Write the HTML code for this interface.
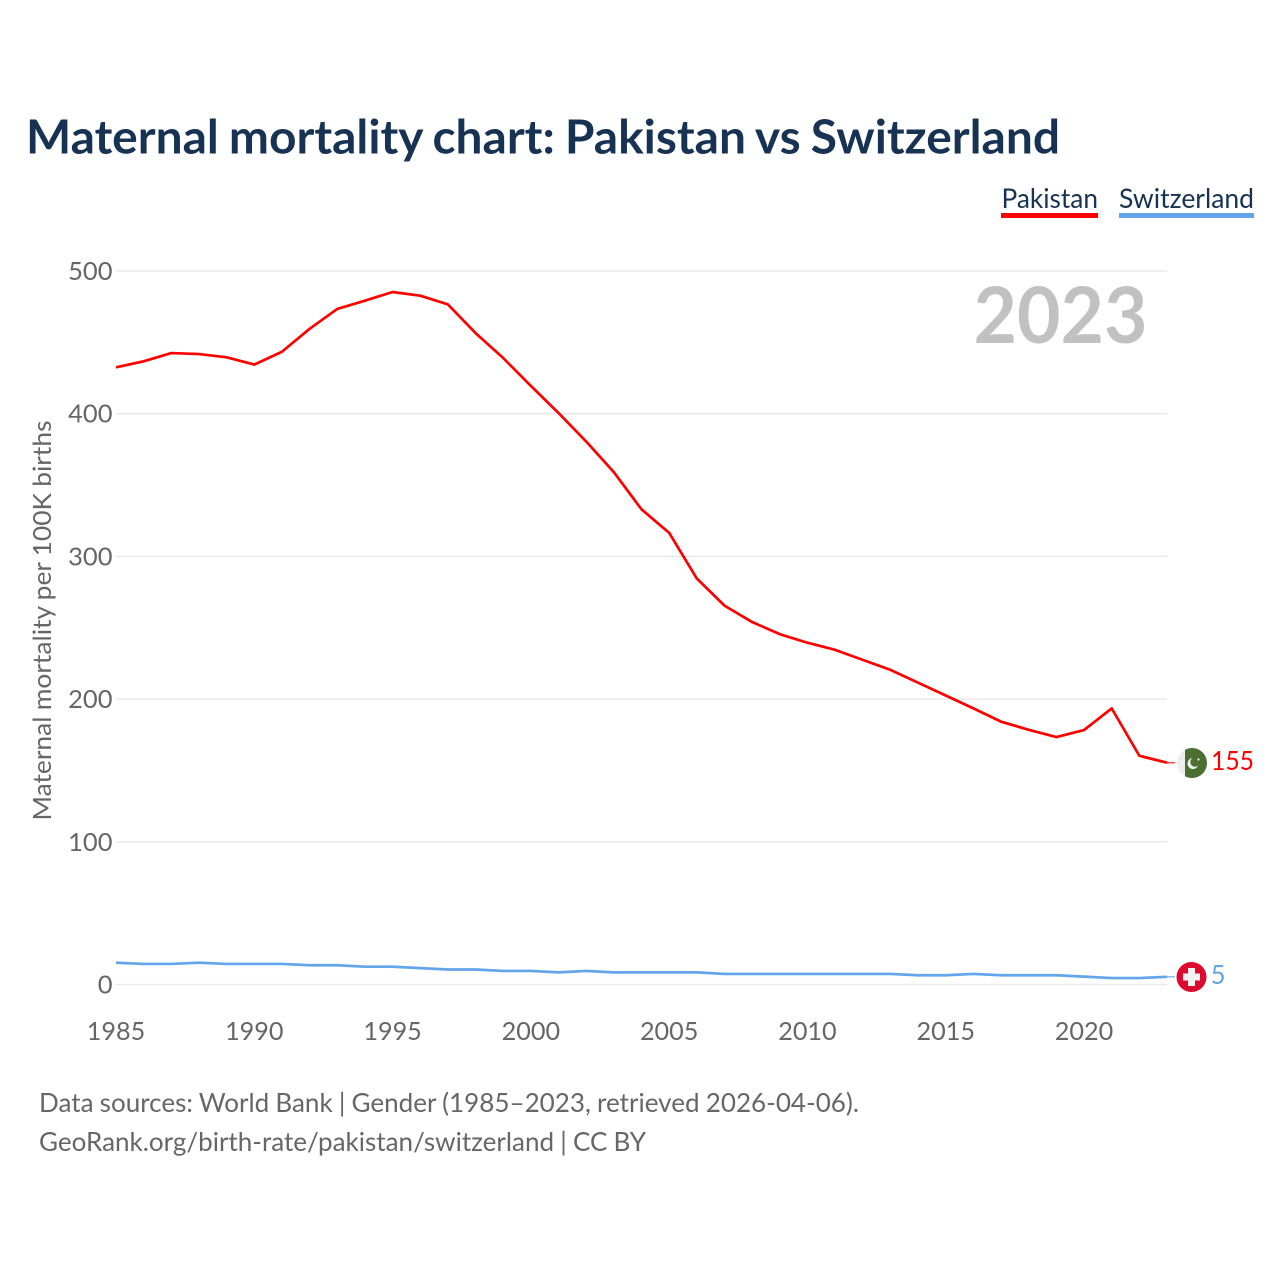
<!DOCTYPE html>
<html lang="en">
<head>
<meta charset="utf-8">
<title>Maternal mortality chart: Pakistan vs Switzerland</title>
<style>
  html, body { margin: 0; padding: 0; background: #fff; }
  svg { display: block; }
  text { font-family: "Lato", "Carlito", "Liberation Sans", sans-serif; }
</style>
</head>
<body>
<svg id="chart" xmlns="http://www.w3.org/2000/svg" width="1280" height="1280" viewBox="0 0 1280 1280">
  <rect x="0" y="0" width="1280" height="1280" fill="#ffffff"/>
  <text x="26" y="153.5" font-size="47" font-weight="700" word-spacing="-1.5" fill="#173253" textLength="1034" lengthAdjust="spacingAndGlyphs">Maternal mortality chart: Pakistan vs Switzerland</text>

  <g>
    <text x="1001.5" y="208" font-size="27" fill="#173253" textLength="96.5" lengthAdjust="spacingAndGlyphs">Pakistan</text>
    <rect x="1001" y="213" width="97" height="5" fill="#ff0000"/>
  </g>
  <g>
    <text x="1119" y="208" font-size="27" fill="#173253" textLength="135" lengthAdjust="spacingAndGlyphs">Switzerland</text>
    <rect x="1119" y="213" width="135" height="5" fill="#62a5ea"/>
  </g>

  <g id="grid"></g>
  <g id="y-ticks"></g>
  <g id="x-ticks"></g>

  <text x="973.5" y="343" font-size="77.5" font-weight="700" fill="#c1c1c1" textLength="174" lengthAdjust="spacingAndGlyphs">2023</text>

  <text transform="translate(51,820.5) rotate(-90)" x="0" y="0" font-size="25.5" word-spacing="-0.5" fill="#666666" textLength="400" lengthAdjust="spacingAndGlyphs">Maternal mortality per 100K births</text>

  <g id="series"></g>

  <g>
    <clipPath id="pk-clip"><circle cx="1192" cy="763" r="15"/></clipPath>
    <g clip-path="url(#pk-clip)">
      <rect x="1177" y="748" width="8" height="30" fill="#eeeeee"/>
      <rect x="1185" y="748" width="22" height="30" fill="#4a6f30"/>
      <circle cx="1193" cy="763.5" r="5.5" fill="#f2f2f2"/>
      <circle cx="1195" cy="762" r="4.7" fill="#4a6f30"/>
      <circle cx="1198.5" cy="759.5" r="1.1" fill="#f2f2f2"/>
    </g>
  </g>
  <g>
    <circle cx="1191.5" cy="977" r="15" fill="#dc0a2f"/>
    <rect x="1188" y="968" width="7" height="18" fill="#f2f2f2"/>
    <rect x="1183" y="973.5" width="17" height="7" fill="#f2f2f2"/>
  </g>

  <text id="end-pk" x="1211" y="770" font-size="26" fill="#ff0000" textLength="43" lengthAdjust="spacingAndGlyphs"></text>
  <text id="end-ch" x="1210.5" y="984" font-size="26" fill="#62a5ea"></text>

  <text x="39" y="1112" font-size="26.5" word-spacing="-0.5" fill="#666666" textLength="820" lengthAdjust="spacingAndGlyphs">Data sources: World Bank | Gender (1985–2023, retrieved 2026-04-06).</text>
  <text x="39" y="1151" font-size="26.5" word-spacing="-0.5" fill="#666666" textLength="607" lengthAdjust="spacingAndGlyphs">GeoRank.org/birth-rate/pakistan/switzerland | CC BY</text>
</svg>
<script>
const years = [1985,1986,1987,1988,1989,1990,1991,1992,1993,1994,1995,1996,1997,1998,1999,2000,2001,2002,2003,2004,2005,2006,2007,2008,2009,2010,2011,2012,2013,2014,2015,2016,2017,2018,2019,2020,2021,2022,2023];
const pakistanValues = [432.5,436.7,442.5,441.8,439.5,434.4,443.4,459.5,473.4,479.2,485.3,482.7,476.6,456.5,439,419.5,400.5,380.5,359,333,316.5,284.5,265.5,254,245.5,239.5,234.5,227.5,220.5,211.5,202.5,193.5,184.2,178.5,173.4,178.3,193.5,160.3,155.4];
const switzerlandValues = [15.3,14.4,14.4,15.3,14.4,14.4,14.4,13.5,13.5,12.5,12.5,11.5,10.5,10.5,9.5,9.5,8.5,9.5,8.5,8.5,8.5,8.5,7.4,7.4,7.4,7.4,7.4,7.4,7.4,6.5,6.5,7.4,6.5,6.5,6.5,5.5,4.5,4.5,5.4];
const yTickValues = [0,100,200,300,400,500];
const xTickValues = [1985,1990,1995,2000,2005,2010,2015,2020];

const SVGNS = 'http://www.w3.org/2000/svg';
function xScale(year) { return 116 + (year - 1985) * (1167 - 116) / (2023 - 1985); }
function yScale(value) { return 984.5 - value * (984.5 - 271) / 500; }

const gridGroup = document.getElementById('grid');
const yTickGroup = document.getElementById('y-ticks');
const xTickGroup = document.getElementById('x-ticks');
const seriesGroup = document.getElementById('series');

yTickValues.forEach(function (v) {
  const line = document.createElementNS(SVGNS, 'line');
  
  
  line.setAttribute('x1', 116);
  line.setAttribute('x2', 1167);
  line.setAttribute('y1', yScale(v));
  line.setAttribute('y2', yScale(v));
  line.setAttribute('stroke', '#e9e9e9');
  line.setAttribute('stroke-width', '1.5');
  gridGroup.appendChild(line);

  const label = document.createElementNS(SVGNS, 'text');
  
  
  label.setAttribute('x', 112.5);
  label.setAttribute('y', yScale(v) + 9);
  label.setAttribute('text-anchor', 'end');
  label.setAttribute('font-size', '25.5');
  label.setAttribute('fill', '#666666');
  label.textContent = v;
  yTickGroup.appendChild(label);
});

xTickValues.forEach(function (y) {
  const label = document.createElementNS(SVGNS, 'text');
  
  
  label.setAttribute('x', xScale(y));
  label.setAttribute('y', 1040);
  label.setAttribute('text-anchor', 'middle');
  label.setAttribute('font-size', '25.2');
  label.setAttribute('fill', '#666666');
  label.textContent = y;
  xTickGroup.appendChild(label);
});

function drawSeries(values, color, key) {
  const pts = values.map(function (v, i) { return xScale(years[i]) + ',' + yScale(v); }).join(' ');
  const line = document.createElementNS(SVGNS, 'polyline');
  
  
  line.setAttribute('points', pts);
  line.setAttribute('fill', 'none');
  line.setAttribute('stroke', color);
  line.setAttribute('stroke-width', '2.7');
  line.setAttribute('stroke-linejoin', 'round');
  seriesGroup.appendChild(line);

  const lastY = yScale(values[values.length - 1]);
  const connector = document.createElementNS(SVGNS, 'line');
  
  
  connector.setAttribute('x1', xScale(years[years.length - 1]));
  connector.setAttribute('x2', 1175);
  connector.setAttribute('y1', lastY);
  connector.setAttribute('y2', lastY);
  connector.setAttribute('stroke', color);
  connector.setAttribute('stroke-width', '1.5');
  connector.setAttribute('opacity', '0.7');
  seriesGroup.appendChild(connector);
}

drawSeries(pakistanValues, '#ff0000', 'pakistan');
drawSeries(switzerlandValues, '#62a5ea', 'switzerland');

document.getElementById('end-pk').textContent = Math.round(pakistanValues[pakistanValues.length - 1]);
document.getElementById('end-ch').textContent = Math.round(switzerlandValues[switzerlandValues.length - 1]);
</script>
</body>
</html>
